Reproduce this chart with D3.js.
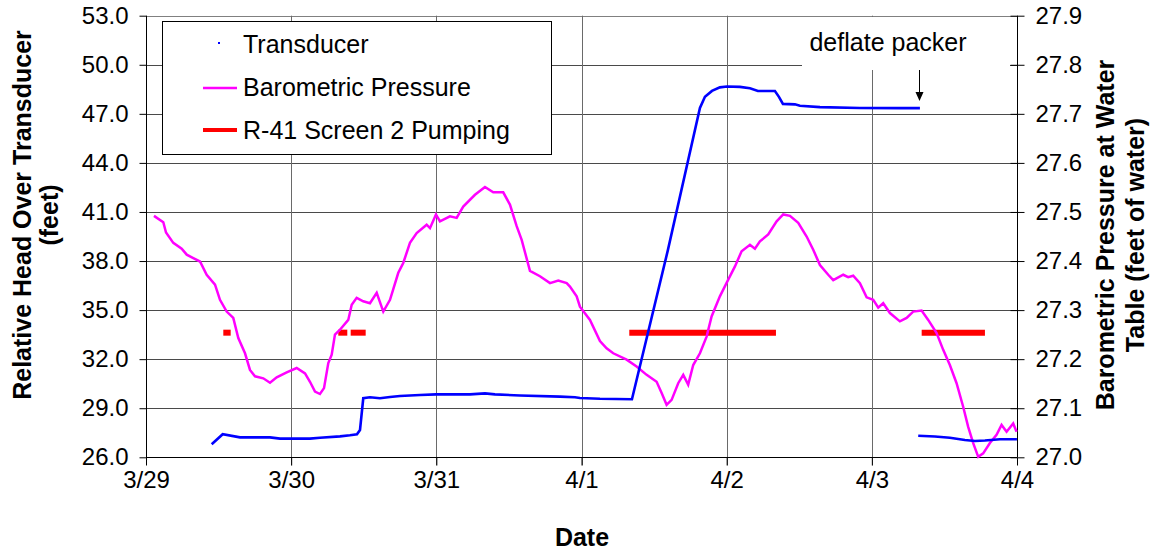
<!DOCTYPE html>
<html>
<head>
<meta charset="utf-8">
<script src="https://cdn.jsdelivr.net/npm/d3@7"></script>
<style>
  body { margin: 0; background: #fff; }
  svg text { font-family: "Liberation Sans", Arial, sans-serif; fill: #000; }
</style>
</head>
<body>
<svg id="chart" width="1158" height="552"></svg>
<script>
// hours after 3/29 00:00
var start = new Date(2000, 2, 29);
var dayTicks = ["3/29", "3/30", "3/31", "4/1", "4/2", "4/3", "4/4"];
var headTicks = [26, 29, 32, 35, 38, 41, 44, 47, 50, 53];
var baroTicks = [27.0, 27.1, 27.2, 27.3, 27.4, 27.5, 27.6, 27.7, 27.8, 27.9];

// transducer head (feet), null splits the record at the packer deflation
var transHours = [10.86, 12.68, 15.54, 20.5, 22.15, 27.11, 28.76, 32.07, 33.72, 34.88, 35.38, 35.92, 37.03, 38.68, 40.34, 41.99, 45.3, 47.94, 53.56, 56.04, 57.69, 61.83, 68.44, 70.92, 71.74, 75.05, 80.34, 86.29, 91.58, 92.41, 93.57, 94.88, 96.04, 98.19, 99.85, 101.17, 103.98, 104.64, 105.3, 107.28, 108.11, 111.42, 118.03, 124.64, 127.95,
  null,
  127.67, 130.43, 132.9, 135.38, 137.04, 138.7, 141.18, 143.99];
var transHead = [26.80, 27.41, 27.22, 27.22, 27.14, 27.14, 27.20, 27.28, 27.35, 27.41, 27.67, 29.61, 29.67, 29.61, 29.69, 29.75, 29.81, 29.85, 29.85, 29.91, 29.85, 29.78, 29.71, 29.67, 29.63, 29.58, 29.55, 38.68, 47.36, 48.04, 48.40, 48.62, 48.67, 48.65, 48.56, 48.40, 48.40, 48.04, 47.61, 47.58, 47.49, 47.41, 47.36, 47.35, 47.35,
  null,
  27.32, 27.27, 27.20, 27.06, 27.00, 27.03, 27.10, 27.10];

// barometric pressure (feet of water)
var baroHours = [1.32, 2.86, 3.31, 4.51, 5.9, 6.73, 7.82, 8.93, 10.03, 11.41, 12.23, 13.34, 14.43, 15.26, 16.37, 17.19, 18.02, 19.39, 20.5, 21.61, 23.26, 24.91, 26.29, 27.11, 27.94, 28.76, 29.43, 30.14, 30.7, 31.24, 32.07, 33.44, 34.01, 34.83, 35.92, 37.03, 38.14, 39.23, 40.34, 41.71, 42.53, 43.64, 44.75, 46.4, 46.95, 47.94, 48.6, 50.25, 51.36, 52.45, 54.39, 56.04, 57.41, 59.06, 60.17, 61.28, 62.11, 63.48, 65.13, 66.79, 68.16, 69.55, 70.09, 71.2, 71.74, 73.4, 75.05, 76.15, 77.25, 79.46, 81.11, 82.77, 84.42, 85.25, 86.07, 86.9, 87.99, 88.82, 89.64, 90.47, 91.58, 92.68, 93.51, 94.88, 96.26, 97.37, 98.47, 99.85, 100.67, 101.5, 102.87, 104.26, 105.35, 106.46, 107.83, 109.22, 110.31, 111.42, 112.79, 113.62, 115.27, 116.09, 116.92, 118.03, 119.14, 120.23, 121.06, 121.88, 122.99, 124.64, 125.75, 126.84, 128.23, 129.32, 130.71, 131.8, 132.9, 134.01, 135.1, 135.93, 136.76, 137.59, 138.41, 139.52, 140.62, 141.45, 142.28, 143.37, 143.93];
var baroValues = [27.492, 27.479, 27.458, 27.437, 27.425, 27.413, 27.406, 27.399, 27.372, 27.352, 27.321, 27.297, 27.284, 27.243, 27.212, 27.178, 27.165, 27.161, 27.152, 27.163, 27.173, 27.182, 27.171, 27.154, 27.134, 27.129, 27.141, 27.192, 27.209, 27.250, 27.260, 27.280, 27.311, 27.325, 27.318, 27.314, 27.335, 27.297, 27.321, 27.376, 27.396, 27.437, 27.457, 27.474, 27.467, 27.495, 27.481, 27.491, 27.488, 27.511, 27.535, 27.551, 27.540, 27.540, 27.515, 27.471, 27.443, 27.380, 27.369, 27.355, 27.360, 27.355, 27.348, 27.328, 27.307, 27.280, 27.237, 27.222, 27.212, 27.199, 27.185, 27.168, 27.154, 27.131, 27.107, 27.117, 27.151, 27.168, 27.148, 27.188, 27.212, 27.246, 27.287, 27.328, 27.362, 27.389, 27.420, 27.433, 27.425, 27.440, 27.454, 27.481, 27.495, 27.492, 27.478, 27.450, 27.423, 27.392, 27.372, 27.361, 27.372, 27.367, 27.370, 27.355, 27.326, 27.321, 27.305, 27.314, 27.294, 27.277, 27.284, 27.297, 27.299, 27.280, 27.253, 27.219, 27.188, 27.151, 27.103, 27.062, 27.029, 27.001, 27.008, 27.029, 27.046, 27.066, 27.052, 27.069, 27.052];

// R-41 screen 2 pumping periods (start, end hours), plotted at a fixed head
var pumpStart = [12.78, 31.79, 33.84, 79.9, 128.24];
var pumpEnd = [14.0, 33.28, 36.32, 104.15, 138.7];
var pumpLevel = 33.62;

var svg = d3.select("#chart");
var plotLeft = 146, plotRight = 1017, plotTop = 15.7, plotBottom = 457.3;
var fs = "25px";

var toDate = function (h) { return new Date(start.getTime() + h * 3600e3); };
var x = d3.scaleTime().domain([start, toDate(144)]).range([plotLeft, plotRight]);
var yL = d3.scaleLinear().domain([26, 53]).range([plotBottom, plotTop]);
var yR = d3.scaleLinear().domain([27.0, 27.9]).range([plotBottom, plotTop]);

// gridlines
var grid = svg.append("g").attr("stroke", "#4a4a4a").attr("stroke-width", 1);
headTicks.forEach(function (t) {
  grid.append("line").attr("x1", plotLeft).attr("x2", plotRight)
    .attr("y1", Math.round(yL(t)) + 0.5).attr("y2", Math.round(yL(t)) + 0.5)
    .attr("stroke", t === 53 ? "#808080" : "#4a4a4a");
});
dayTicks.forEach(function (t, i) {
  var xx = Math.round(x(toDate(i * 24))) + 0.5;
  grid.append("line").attr("x1", xx).attr("x2", xx).attr("y1", plotTop).attr("y2", plotBottom + 8)
    .attr("stroke", i === 0 || i === 6 ? "none" : "#6a6a6a");
});

// annotation box covers grid
svg.append("rect").attr("x", 802).attr("y", 17).attr("width", 208).attr("height", 53).attr("fill", "#fff");

// axes
var axL = svg.append("g").attr("transform", "translate(" + (plotLeft + 0.5) + ",0)")
  .call(d3.axisLeft(yL).tickValues(headTicks).tickSize(7).tickPadding(11).tickFormat(d3.format(".1f")));
var axR = svg.append("g").attr("transform", "translate(" + (plotRight + 0.5) + ",0)")
  .call(d3.axisRight(yR).tickValues(baroTicks).tickSize(7).tickPadding(11).tickFormat(d3.format(".1f")));
axR.selectAll(".tick line").attr("x1", -7);
var axB = svg.append("g").attr("transform", "translate(0," + (Math.round(plotBottom) + 0.5) + ")")
  .call(d3.axisBottom(x).tickValues(dayTicks.map(function (d, i) { return toDate(i * 24); }))
    .tickSize(8).tickPadding(5).tickFormat(function (d, i) { return dayTicks[i]; }));
[axL, axR, axB].forEach(function (a) {
  a.select(".domain").attr("stroke", "#000").attr("stroke-width", 1);
  a.selectAll(".tick line").attr("stroke", "#000");
  a.selectAll("text").style("font-size", "24px");
});
axB.select(".domain").attr("d", "M" + plotLeft + ",0H" + plotRight);
axL.select(".domain").attr("d", "M0," + plotTop + "V" + plotBottom);
axR.select(".domain").attr("d", "M0," + plotTop + "V" + plotBottom);

// pumping bars
svg.append("g").selectAll("line").data(pumpStart).join("line")
  .attr("x1", function (d) { return x(toDate(d)); })
  .attr("x2", function (d, i) { return x(toDate(pumpEnd[i])); })
  .attr("y1", yL(pumpLevel)).attr("y2", yL(pumpLevel))
  .attr("stroke", "#ff0000").attr("stroke-width", 6);

// barometric line
var baro = baroHours.map(function (h, i) { return [h, baroValues[i]]; });
svg.append("path").datum(baro)
  .attr("fill", "none").attr("stroke", "#ff00ff").attr("stroke-width", 2.5)
  .attr("d", d3.line().x(function (d) { return x(toDate(d[0])); }).y(function (d) { return yR(d[1]); }));

// transducer
var trans = transHours.map(function (h, i) { return [h, transHead[i]]; });
svg.append("path").datum(trans)
  .attr("fill", "none").attr("stroke", "#0000ff").attr("stroke-width", 2.6)
  .attr("d", d3.line().defined(function (d) { return d[0] !== null; })
    .x(function (d) { return x(toDate(d[0])); }).y(function (d) { return yL(d[1]); }));

// annotation
svg.append("text").attr("x", 888).attr("y", 51).attr("text-anchor", "middle")
  .style("font-size", fs).text("deflate packer");
svg.append("line").attr("x1", 919.5).attr("x2", 919.5).attr("y1", 70).attr("y2", 100)
  .attr("stroke", "#000").attr("stroke-width", 1);
svg.append("path").attr("d", "M915.5,92L919.5,101L923.5,92Z").attr("fill", "#000");

// legend
var lg = svg.append("g");
lg.append("rect").attr("x", 162.5).attr("y", 21.5).attr("width", 389).attr("height", 133)
  .attr("fill", "#fff").attr("stroke", "#000");
var items = ["Transducer", "Barometric Pressure", "R-41 Screen 2 Pumping"];
items.forEach(function (t, i) {
  var yy = 44 + i * 43;
  lg.append("text").attr("x", 243).attr("y", yy + 9).style("font-size", fs).text(t);
});
lg.append("rect").attr("x", 218).attr("y", 42).attr("width", 2).attr("height", 2).attr("fill", "#0000ff");
lg.append("line").attr("x1", 203).attr("x2", 237).attr("y1", 88).attr("y2", 88)
  .attr("stroke", "#ff00ff").attr("stroke-width", 2.5);
lg.append("line").attr("x1", 203).attr("x2", 237).attr("y1", 130).attr("y2", 130)
  .attr("stroke", "#ff0000").attr("stroke-width", 4);

// axis titles
svg.append("text").attr("transform", "translate(31,215) rotate(-90)").attr("text-anchor", "middle")
  .style("font-size", fs).style("font-weight", "bold").text("Relative Head Over Transducer");
svg.append("text").attr("transform", "translate(58,215) rotate(-90)").attr("text-anchor", "middle")
  .style("font-size", fs).style("font-weight", "bold").text("(feet)");
svg.append("text").attr("transform", "translate(1114,235) rotate(-90)").attr("text-anchor", "middle")
  .style("font-size", fs).style("font-weight", "bold").text("Barometric Pressure at Water");
svg.append("text").attr("transform", "translate(1144,235) rotate(-90)").attr("text-anchor", "middle")
  .style("font-size", fs).style("font-weight", "bold").text("Table (feet of water)");
svg.append("text").attr("x", 582).attr("y", 546).attr("text-anchor", "middle")
  .style("font-size", fs).style("font-weight", "bold").text("Date");
</script>
</body>
</html>
